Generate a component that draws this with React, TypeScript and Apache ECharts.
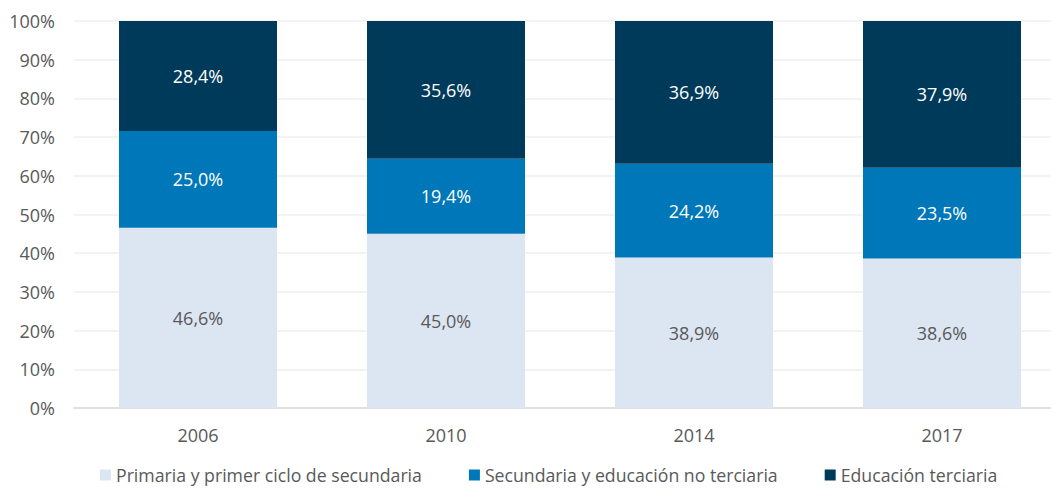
import React, { useEffect, useRef } from "react";
import * as echarts from "echarts";

const categories = ["2006", "2010", "2014", "2017"];
const seriesNames = [
  "Primaria y primer ciclo de secundaria",
  "Secundaria y educación no terciaria",
  "Educación terciaria",
];
const primaria = [46.6, 45.0, 38.9, 38.6];
const secundaria = [25.0, 19.4, 24.2, 23.5];
const terciaria = [28.4, 35.6, 36.9, 37.9];
const yTicks = [0, 10, 20, 30, 40, 50, 60, 70, 80, 90, 100];

const colors = ["#DCE6F2", "#0077B8", "#003A5A"];
const labelColors = ["#595959", "#FFFFFF", "#FFFFFF"];
const FONT = "'Open Sans', sans-serif";

export default function App() {
  const ref = useRef<HTMLDivElement>(null);
  useEffect(() => {
    if (!ref.current) return;
    const chart = echarts.init(ref.current, null, { renderer: "svg" });
    const data = [primaria, secundaria, terciaria];
    chart.setOption({
      animation: false,
      textStyle: { fontFamily: FONT },
      grid: { left: 74, top: 21, right: 0, bottom: 80, containLabel: false },
      legend: {
        left: 95,
        top: 461,
        icon: "rect",
        itemWidth: 11,
        itemHeight: 11,
        itemGap: 47,
        textStyle: { fontSize: 17.7, lineHeight: 18, color: "#595959", fontFamily: FONT },
        data: seriesNames,
      },
      xAxis: {
        type: "category",
        data: categories,
        axisLine: { lineStyle: { color: "#D9D9D9", width: 1.5 } },
        axisTick: { show: false },
        axisLabel: { fontSize: 18, color: "#595959", margin: 18, fontFamily: FONT },
      },
      yAxis: {
        type: "value",
        min: 0,
        max: 100,
        interval: 10,
        axisLine: { show: false },
        axisTick: { show: false },
        splitLine: { lineStyle: { color: "#EFEFEF", width: 1.5 } },
        axisLabel: {
          fontSize: 18,
          color: "#595959",
          margin: 19,
          fontFamily: FONT,
          formatter: (v: number) => (yTicks.includes(v) ? v + "%" : ""),
        },
      },
      series: seriesNames.map((name, i) => ({
        name,
        type: "bar",
        stack: "total",
        barWidth: 158,
        itemStyle: { color: colors[i] },
        label: {
          show: true,
          position: "inside",
          color: labelColors[i],
          fontSize: 18,
          fontFamily: FONT,
          formatter: (p: any) => p.value.toFixed(1).replace(".", ",") + "%",
        },
        data: data[i],
      })),
    });
    return () => chart.dispose();
  }, []);
  return (
    <div style={{ position: "absolute", left: 0, top: 0, width: 1051, height: 488, overflow: "hidden" }}>
      <div ref={ref} style={{ width: 1066, height: 488 }} />
    </div>
  );
}
